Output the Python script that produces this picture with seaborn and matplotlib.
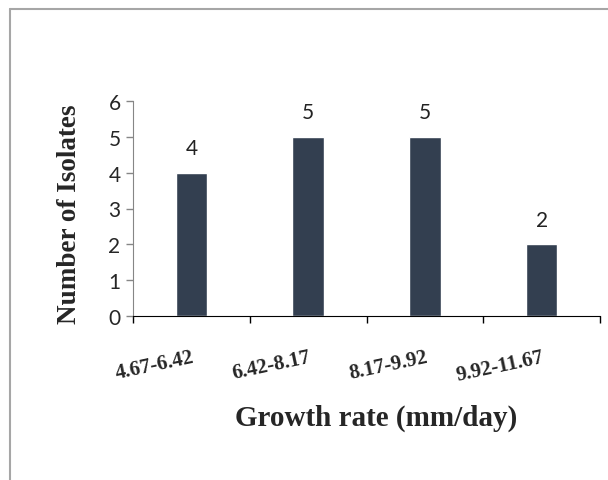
import matplotlib
matplotlib.use("Agg")
import matplotlib.pyplot as plt
import seaborn as sns
import pandas as pd
from matplotlib.lines import Line2D

# data
ranges = ["4.67-6.42", "6.42-8.17", "8.17-9.92", "9.92-11.67"]
isolates = [4, 5, 5, 2]
yticks = [0, 1, 2, 3, 4, 5, 6]

df = pd.DataFrame({"range": ranges, "count": isolates})

sns.set_style("white")
plt.rcParams["font.family"] = ["Lato", "DejaVu Sans"]

fig = plt.figure(figsize=(6.08, 4.81), dpi=100)
ax = fig.add_axes([133/608, 1-317/481, (600-133)/608, (317-102)/481])

sns.barplot(data=df, x="range", y="count", color="#333f50", width=0.27,
            saturation=1, ax=ax)

# value labels
for i, v in enumerate(isolates):
    ax.text(i, v + 0.4, str(v), ha="center", va="bottom", fontsize=15, color="#222222")

ax.set_xlim(-0.5, len(ranges) - 0.5)
ax.set_ylim(0, 6)
ax.set_yticks(yticks)
ax.set_yticklabels([str(t) for t in yticks], fontsize=15)

# ticks on category boundaries, labels under bars
ax.set_xticks([i - 0.5 for i in range(len(ranges) + 1)], minor=True)
ax.set_xticks(range(len(ranges)))
ax.set_xticklabels(ranges, rotation=12, ha="right", rotation_mode="anchor",
                   fontsize=15, fontweight="bold", family="Liberation Serif")
ax.tick_params(axis="x", which="major", length=0, pad=22)
ax.tick_params(axis="x", which="minor", length=5, width=1, color="black", direction="out", bottom=True)
ax.tick_params(axis="y", length=5, width=1, color="#868686", direction="out", left=True, pad=4)

for s in ["top", "right"]:
    ax.spines[s].set_visible(False)
ax.spines["left"].set_color("#868686")
ax.spines["bottom"].set_color("black")

ax.set_xlabel("")
ax.set_ylabel("")
fig.text(376/608, 1-418/481, "Growth rate (mm/day)", ha="center", va="center",
         fontsize=21, fontweight="bold", family="Liberation Serif")
fig.text(70/608, 1-214/481, "Number of Isolates", ha="center", va="center", rotation=90,
         fontsize=19.5, fontweight="bold", family="Liberation Serif")

# outer frame (left and top edges only)
fig.add_artist(Line2D([10/608, 10/608], [0, 1-10/481], color="#a6a6a6", lw=1.5, transform=fig.transFigure))
fig.add_artist(Line2D([10/608, 1], [1-10/481, 1-10/481], color="#a6a6a6", lw=1.5, transform=fig.transFigure))

fig.savefig("out.png", dpi=100)
